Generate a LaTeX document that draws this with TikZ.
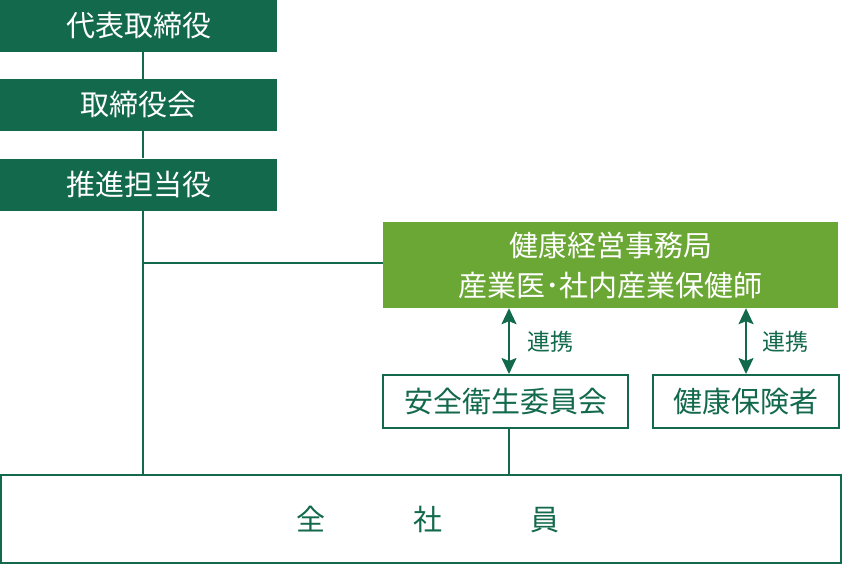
\documentclass[tikz,border=0pt]{standalone}
\usepackage{fontspec}
\setmainfont{Noto Sans CJK JP}
\usetikzlibrary{arrows.meta}
\definecolor{darkgreen}{RGB}{18,105,76}
\definecolor{leafgreen}{RGB}{106,167,52}
\tikzset{
  execbox/.style={fill=darkgreen, text=white, minimum width=277pt, minimum height=52pt, inner sep=0pt,
    font=\fontsize{29}{34}\selectfont},
  officebox/.style={fill=leafgreen, text=white, minimum width=455pt, minimum height=86pt, inner sep=0pt,
    align=center, font=\fontsize{29}{40}\selectfont},
  unitbox/.style={draw=darkgreen, line width=2pt, fill=white, text=darkgreen, minimum height=53pt, inner sep=0pt,
    font=\fontsize{29}{34}\selectfont},
  orgline/.style={draw=darkgreen, line width=2pt},
  linkarrow/.style={orgline, {Stealth[length=16pt,width=15pt,inset=3pt]}-{Stealth[length=16pt,width=15pt,inset=3pt]}},
  linklabel/.style={text=darkgreen, font=\fontsize{23}{28}\selectfont}
}
\begin{document}
\begin{tikzpicture}[x=1pt, y=-1pt]
  \useasboundingbox (0,0) rectangle (843,565);
  \def\spinex{143}
  \def\safetyx{509}
  % management chain
  \node[execbox] (ceo)   at (138.5,26)  {代表取締役};
  \node[execbox] (board) at (138.5,105) {取締役会};
  \node[execbox] (promo) at (138.5,184.5) {推進担当役};
  % health office and partners
  \node[officebox] (office) at (610.5,265) {健康経営事務局\\産業医･社内産業保健師};
  \node[unitbox, minimum width=245pt] (safety)  at (505.5,401.5) {安全衛生委員会};
  \node[unitbox, minimum width=186pt] (insurer) at (746,401.5) {健康保険者};
  % all employees
  \node[unitbox, minimum width=840pt, minimum height=88pt] (staff) at (421,519)
    {\hspace*{13pt}全\hspace{88pt}社\hspace{88pt}員};
  % spine from the top down to all employees
  \coordinate (top)  at (\spinex,0);
  \coordinate (tee)  at (\spinex,263);
  \draw[orgline] (ceo.south -| top) -- (board.north -| top);
  \draw[orgline] (board.south -| top) -- (promo.north -| top);
  \draw[orgline] (promo.south -| top) -- (staff.north -| top);
  \draw[orgline] (tee) -- (office.west |- tee);
  % cooperation arrows
  \coordinate (link1) at (\safetyx,0);
  \draw[linkarrow] (office.south -| link1) -- (safety.north -| link1);
  \node[linklabel] (coop1) at (550,342) {連携};
  \draw[linkarrow] (office.south -| insurer) -- (insurer.north);
  \node[linklabel] (coop2) at (785,342) {連携};
  \draw[orgline] (safety.south -| link1) -- (staff.north -| link1);
\end{tikzpicture}
\end{document}
